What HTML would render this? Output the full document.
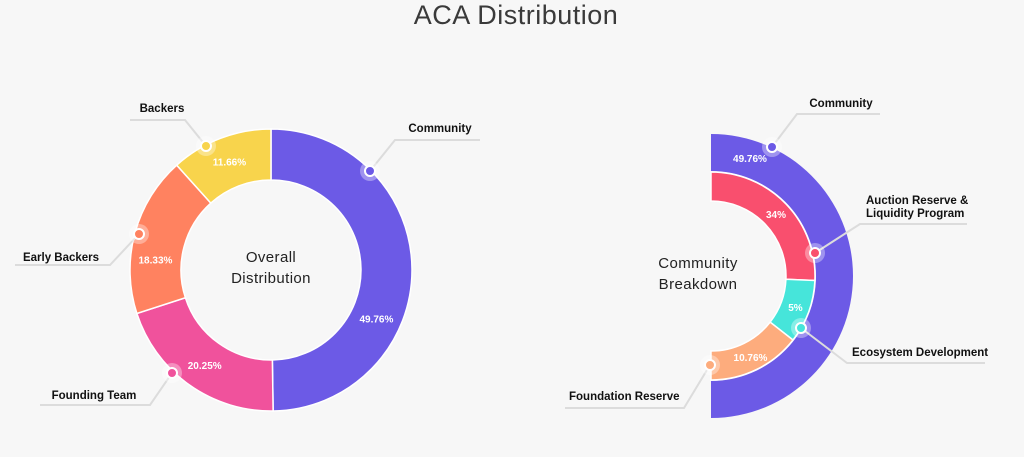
<!DOCTYPE html>
<html><head><meta charset="utf-8">
<style>
body{margin:0;background:#f7f7f7;width:1024px;height:457px;overflow:hidden;font-family:"Liberation Sans",sans-serif}
svg{display:block}
.lbl{font-size:11.5px;font-weight:bold;fill:#111}
.pct{font-size:10px;font-weight:bold;fill:#fff}
.ctr{font-size:15px;fill:#222;letter-spacing:0.4px}
</style></head><body>
<svg id="c" width="1024" height="457">
<text x="516" y="24" text-anchor="middle" font-size="27" fill="#3a3a3a" letter-spacing="0.5">ACA Distribution</text>
</svg>
<script>
const overallCategories=["Community","Founding Team","Early Backers","Backers"];
const overallValues=[49.76,20.25,18.33,11.66];
const overallColors=["#6c5ae6","#f0529c","#ff8260","#f8d44c"];
const communityCategories=["Auction Reserve & Liquidity Program","Ecosystem Development","Foundation Reserve"];
const communityValues=[34,5,10.76];
const communityColors=["#f94f6e","#46e5da","#fdac7d"];
const communityTotal=[49.76];

const svg=document.getElementById('c');
const NS='http://www.w3.org/2000/svg';
function mk(tag,attrs,parent){const e=document.createElementNS(NS,tag);for(const k in attrs)e.setAttribute(k,attrs[k]);(parent||svg).appendChild(e);return e;}
function pt(cx,cy,r,a){const t=a*Math.PI/180;return [cx+r*Math.sin(t),cy-r*Math.cos(t)];}
function arc(cx,cy,r0,r1,a0,a1){
  const [x0,y0]=pt(cx,cy,r1,a0),[x1,y1]=pt(cx,cy,r1,a1),[x2,y2]=pt(cx,cy,r0,a1),[x3,y3]=pt(cx,cy,r0,a0);
  const lg=(a1-a0)>180?1:0;
  return `M${x0},${y0}A${r1},${r1} 0 ${lg} 1 ${x1},${y1}L${x2},${y2}A${r0},${r0} 0 ${lg} 0 ${x3},${y3}Z`;
}
function txt(x,y,s,cls,anchor,name){const t=mk('text',{x:x,y:y,class:cls,'text-anchor':anchor||'middle'});t.textContent=s;


return t;}
function dot(x,y,col,name){
  const h=mk('circle',{cx:x,cy:y,r:10,fill:'#ffffff',opacity:0.35});
  
  
  const d=mk('circle',{cx:x,cy:y,r:5,fill:col,stroke:'#fff','stroke-width':2});
  
  
}
function leader(points,name){
  const p=mk('polyline',{points:points.map(q=>q.join(',')).join(' '),fill:'none',stroke:'#dcdcdc','stroke-width':2});
  
  
}

// Left donut
const L={cx:271,cy:270,r0:90,r1:141};
const tot=overallValues.reduce((a,b)=>a+b,0);
let a=0;const mids=[];
overallValues.forEach((v,i)=>{
  const a1=a+v/tot*360;
  const p=mk('path',{d:arc(L.cx,L.cy,L.r0,L.r1,a,a1),fill:overallColors[i],stroke:'#fff','stroke-width':1.5});
  
  
  mids.push([a,a1]);a=a1;
});
const pctOffsets=[0.64,0.49,0.35,0.5];
overallValues.forEach((v,i)=>{
  const m=mids[i][0]+(mids[i][1]-mids[i][0])*pctOffsets[i];
  const [x,y]=pt(L.cx,L.cy,116,m);
  txt(x,y+4,v+'%','pct','middle','overall-pct-'+i);
});
leader([[370,171],[395,140],[480,140]],'community-leader');
leader([[206,146],[185,120],[130,120]],'backers-leader');
leader([[139,234],[110,265],[15,265]],'early-backers-leader');
leader([[172,373],[150,405],[40,405]],'founding-team-leader');
dot(370,171,overallColors[0],'community-dot');
dot(206,146,overallColors[3],'backers-dot');
dot(139,234,overallColors[2],'early-backers-dot');
dot(172,373,overallColors[1],'founding-team-dot');
txt(440,132,overallCategories[0],'lbl','middle','community-label');
txt(162,112,overallCategories[3],'lbl','middle','backers-label');
txt(61,261,overallCategories[2],'lbl','middle','early-backers-label');
txt(94,399,overallCategories[1],'lbl','middle','founding-team-label');
txt(L.cx,262,'Overall','ctr','middle','overall-center-title');
txt(L.cx,283,'Distribution','ctr','middle','overall-center-subtitle');

// Right half donut
const R={cx:711,cy:276};
const po=mk('path',{d:arc(R.cx,R.cy,105,142,0,180),fill:'#6c5ae6'});


const sq=communityValues.map(v=>Math.sqrt(v));
const sqt=sq.reduce((x,y)=>x+y,0);
let b=0;const rm=[];
communityValues.forEach((v,i)=>{
  const b1=b+sq[i]/sqt*180;
  const p=mk('path',{d:arc(R.cx,R.cy,75,104,b,b1),fill:communityColors[i],stroke:'#fff','stroke-width':1.5});
  
  
  rm.push((b+b1)/2);b=b1;
});
txt(750,162,communityTotal[0]+'%','pct','middle','community-outer-pct');
communityValues.forEach((v,i)=>{
  const [x,y]=pt(R.cx,R.cy,90,rm[i]);
  txt(x,y+4,v+'%','pct','middle','community-pct-'+i);
});
leader([[772,147],[797,114],[880,114]],'community-right-leader');
leader([[815,253],[860,224],[967,224]],'auction-leader');
leader([[801,328],[847,363],[985,363]],'ecosystem-leader');
leader([[710,365],[684,408],[565,408]],'foundation-leader');
dot(772,147,'#6c5ae6','community-right-dot');
dot(815,253,communityColors[0],'auction-dot');
dot(801,328,communityColors[1],'ecosystem-dot');
dot(710,365,communityColors[2],'foundation-dot');
txt(841,107,'Community','lbl','middle','community-right-label');
txt(866,204,'Auction Reserve &','lbl','start','auction-label-1');
txt(866,217,'Liquidity Program','lbl','start','auction-label-2');
txt(852,356,communityCategories[1],'lbl','start','ecosystem-label');
txt(569,400,communityCategories[2],'lbl','start','foundation-label');
txt(698,268,'Community','ctr','middle','community-center-title');
txt(698,289,'Breakdown','ctr','middle','community-center-subtitle');
</script>
</body></html>
